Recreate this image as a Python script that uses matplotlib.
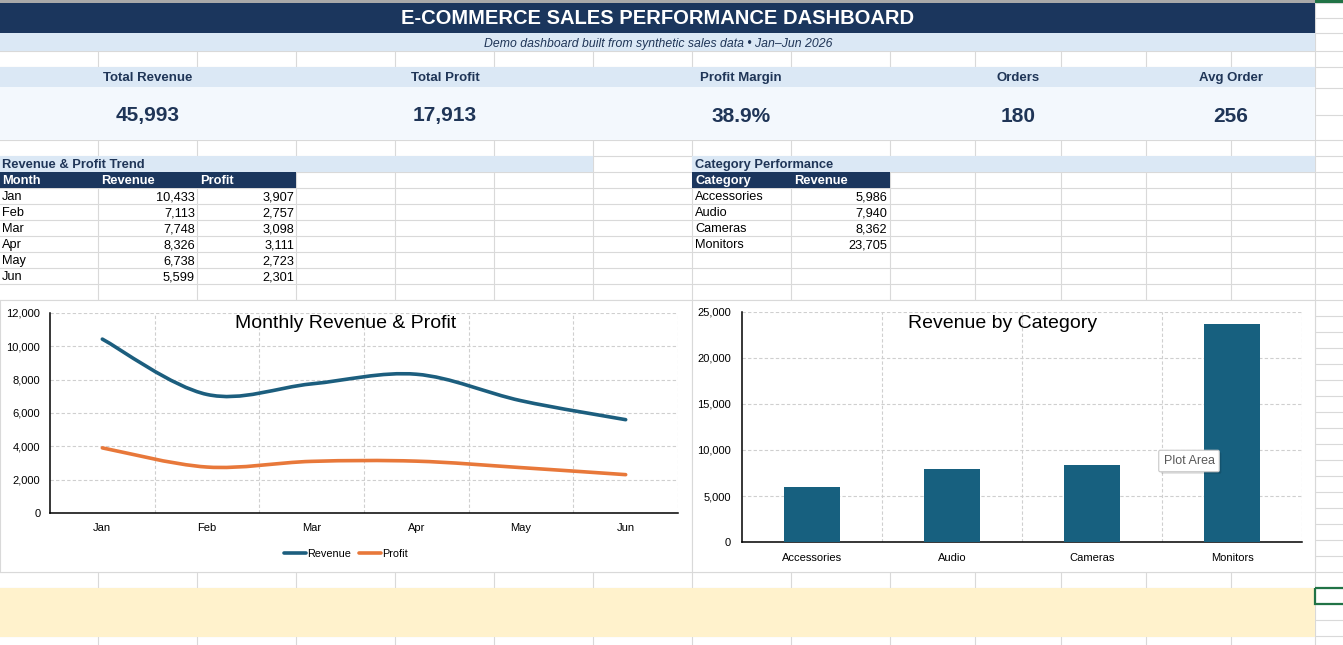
import numpy as np
import matplotlib.pyplot as plt
from matplotlib.patches import Rectangle, PathPatch
from matplotlib.path import Path
from matplotlib.lines import Line2D
from matplotlib.ticker import FuncFormatter
from matplotlib import font_manager

# ---- data read from the sheet ----
months = ['Jan', 'Feb', 'Mar', 'Apr', 'May', 'Jun']
revenue = [10433, 7113, 7748, 8326, 6738, 5599]
profit = [3907, 2757, 3098, 3111, 2723, 2301]

categories = ['Accessories', 'Audio', 'Cameras', 'Monitors']
cat_revenue = [5986, 7940, 8362, 23705]

kpi_labels = ['Total Revenue', 'Total Profit', 'Profit Margin', 'Orders', 'Avg Order']
kpi_values = ['45,993', '17,913', '38.9%', '180', '256']

title = 'E-COMMERCE SALES PERFORMANCE DASHBOARD'
subtitle = 'Demo dashboard built from synthetic sales data \u2022 Jan\u2013Jun 2026'

# ---- look ----
NAVY = '#1b365d'
LIGHT = '#dbe8f5'
PALE = '#f3f8fd'
GRID = '#d9d9d9'
TXT = '#1f3557'
REV_C = '#1c5e7e'
PRO_C = '#e8783a'
BAR_C = '#17607f'
YELLOW = '#fff2cc'

have = {f.name for f in font_manager.fontManager.ttflist}
SHEET_FONT = 'Liberation Sans' if 'Liberation Sans' in have else 'DejaVu Sans'
CHART_FONT = 'Liberation Sans Narrow' if 'Liberation Sans Narrow' in have else SHEET_FONT
plt.rcParams['font.family'] = SHEET_FONT

W, H = 1343, 645
fig = plt.figure(figsize=(W / 100, H / 100), dpi=100)
fig.patch.set_facecolor('white')

# background "sheet" drawn in pixel coordinates
bg = fig.add_axes([0, 0, 1, 1])
bg.set_xlim(0, W)
bg.set_ylim(H, 0)
bg.axis('off')
bg.set_zorder(-1)

cols = [98, 197, 296, 395, 494, 593, 692, 791, 890, 975, 1061, 1146, 1231, 1315]
rows = [3, 18, 33, 51, 67, 88, 115, 140] + list(range(156, H, 16))
for x in cols:
    bg.plot([x, x], [0, H], color=GRID, lw=0.8, zorder=1)
for y in rows:
    bg.plot([0, W], [y, y], color=GRID, lw=0.8, zorder=1)


def band(x0, y0, x1, y1, color, z=2, **kw):
    bg.add_patch(Rectangle((x0, y0), x1 - x0, y1 - y0, facecolor=color,
                           edgecolor=kw.pop('ec', 'none'), zorder=z, **kw))


# column header strip at very top
band(0, 0, 1315, 2.5, '#a9a9a9')
band(1315, 0, W, 2.5, '#217346')

band(0, 3, 1315, 33, NAVY)
band(0, 33, 1315, 51, LIGHT)
band(0, 67, 1315, 87, LIGHT)
band(0, 87, 1315, 140, PALE)
band(0, 156, 593, 172, LIGHT)
band(692, 156, 1315, 172, LIGHT)
band(0, 172, 296, 188, NAVY)
band(692, 172, 890, 188, NAVY)
band(0, 588, 1315, 637, YELLOW)
band(1315, 588, W + 2, 604, 'none', z=3, ec='#217346', lw=1.6)

# chart areas
band(0, 300, 692, 572, 'white', z=3, ec=GRID, lw=0.8)
band(692, 300, 1315, 572, 'white', z=3, ec=GRID, lw=0.8)

bg.text(658, 18.5, title, color='white', fontsize=14.5, fontweight='bold',
        ha='center', va='center', zorder=5)
bg.text(658, 43.5, subtitle, color=TXT, fontsize=8.8, style='italic',
        ha='center', va='center', zorder=5)

kpi_x = [148, 445, 741, 1018, 1231]
for x, lab, val in zip(kpi_x, kpi_labels, kpi_values):
    bg.text(x, 78, lab, color=TXT, fontsize=9.5, fontweight='bold',
            ha='center', va='center', zorder=5)
    bg.text(x, 116, val, color=TXT, fontsize=15, fontweight='bold',
            ha='center', va='center', zorder=5)

# section headers and tables
bg.text(2, 165, 'Revenue & Profit Trend', color=TXT, fontsize=9.3,
        fontweight='bold', ha='left', va='center', zorder=5)
bg.text(695, 165, 'Category Performance', color=TXT, fontsize=9.3,
        fontweight='bold', ha='left', va='center', zorder=5)

for x, h in zip([2, 101, 200], ['Month', 'Revenue', 'Profit']):
    bg.text(x, 181, h, color='white', fontsize=9.3, fontweight='bold',
            ha='left', va='center', zorder=5)
for x, h in zip([695, 794], ['Category', 'Revenue']):
    bg.text(x, 181, h, color='white', fontsize=9.3, fontweight='bold',
            ha='left', va='center', zorder=5)

for i, (m, r, p) in enumerate(zip(months, revenue, profit)):
    y = 197 + 16 * i
    bg.text(2, y, m, fontsize=9.2, ha='left', va='center', zorder=5)
    bg.text(195, y, f'{r:,}', fontsize=9.2, ha='right', va='center', zorder=5)
    bg.text(294, y, f'{p:,}', fontsize=9.2, ha='right', va='center', zorder=5)

for i, (c, r) in enumerate(zip(categories, cat_revenue)):
    y = 197 + 16 * i
    bg.text(695, y, c, fontsize=9.2, ha='left', va='center', zorder=5)
    bg.text(887, y, f'{r:,}', fontsize=9.2, ha='right', va='center', zorder=5)


# ---- charts ----
def smooth_path(xs, ys):
    # Excel-style smoothed line: cubic bezier through each point
    p = np.column_stack([xs, ys]).astype(float)
    ext = np.vstack([p[0], p, p[-1]])
    verts = [p[0]]
    codes = [Path.MOVETO]
    for i in range(len(p) - 1):
        p0, p1, p2, p3 = ext[i], ext[i + 1], ext[i + 2], ext[i + 3]
        verts += [p1 + (p2 - p0) / 6, p2 - (p3 - p1) / 6, p2]
        codes += [Path.CURVE4] * 3
    return Path(verts, codes)


def style_axes(ax, n, ymax, ystep, ypad, xpad):
    ax.set_xlim(-0.5, n - 0.5)
    ax.set_ylim(0, ymax)
    ax.set_yticks(np.arange(0, ymax + 1, ystep))
    ax.set_xticks(range(n))
    ax.set_xticks(np.arange(0.5, n, 1.0), minor=True)
    ax.yaxis.set_major_formatter(FuncFormatter(lambda v, _: f'{v:,.0f}'))
    ax.grid(axis='y', which='major', color='#cfcfcf', ls=(0, (3, 2)), lw=0.8)
    ax.grid(axis='x', which='minor', color='#cfcfcf', ls=(0, (3, 2)), lw=0.8)
    ax.set_axisbelow(True)
    for s in ['top', 'right']:
        ax.spines[s].set_visible(False)
    for s in ['left', 'bottom']:
        ax.spines[s].set_linewidth(1.1)
        ax.spines[s].set_color('black')
    ax.tick_params(which='both', length=0)
    ax.tick_params(axis='y', labelsize=8, pad=ypad)
    ax.tick_params(axis='x', labelsize=8, pad=xpad)
    for lab in ax.get_xticklabels() + ax.get_yticklabels():
        lab.set_fontfamily(CHART_FONT)


ax1 = fig.add_axes([50 / W, 1 - 513 / H, 628 / W, 200 / H])
style_axes(ax1, len(months), 12000, 2000, 7, 7.5)
ax1.set_xticklabels(months)
ax1.add_patch(PathPatch(smooth_path(range(len(months)), revenue), fill=False,
                        edgecolor=REV_C, lw=2.6, capstyle='round', zorder=4))
ax1.add_patch(PathPatch(smooth_path(range(len(months)), profit), fill=False,
                        edgecolor=PRO_C, lw=2.6, capstyle='round', zorder=4))
fig.text(346 / W, 1 - 323 / H, 'Monthly Revenue & Profit', fontsize=14,
         ha='center', va='center')
handles = [Line2D([], [], color=REV_C, lw=2.6, solid_capstyle='round'),
           Line2D([], [], color=PRO_C, lw=2.6, solid_capstyle='round')]
leg = fig.legend(handles, ['Revenue', 'Profit'], loc='center',
                 bbox_to_anchor=(346 / W, 1 - 554 / H), ncol=2, frameon=False,
                 fontsize=7.8, handlelength=2.0, handletextpad=0.1,
                 columnspacing=0.8)
for t in leg.get_texts():
    t.set_fontfamily(CHART_FONT)

ax2 = fig.add_axes([742 / W, 1 - 542 / H, 560 / W, 230 / H])
style_axes(ax2, len(categories), 25000, 5000, 8, 8)
ax2.bar(range(len(categories)), cat_revenue, width=0.4, color=BAR_C, zorder=3)
ax2.set_xticklabels(categories)
fig.text(1003 / W, 1 - 323 / H, 'Revenue by Category', fontsize=14,
         ha='center', va='center')

# hover tooltip visible in the screenshot
fig.text(1191 / W, 1 - 463 / H, 'Plot Area', fontsize=9, color='none',
         ha='center', va='center',
         bbox=dict(boxstyle='round,pad=0.38,rounding_size=0.12',
                   fc='#00000022', ec='none'))
fig.text(1189 / W, 1 - 461 / H, 'Plot Area', fontsize=9, color='#595959',
         ha='center', va='center',
         bbox=dict(boxstyle='round,pad=0.38,rounding_size=0.12',
                   fc='white', ec='#c8c8c8', lw=0.8))

fig.savefig('out.png', dpi=100)
